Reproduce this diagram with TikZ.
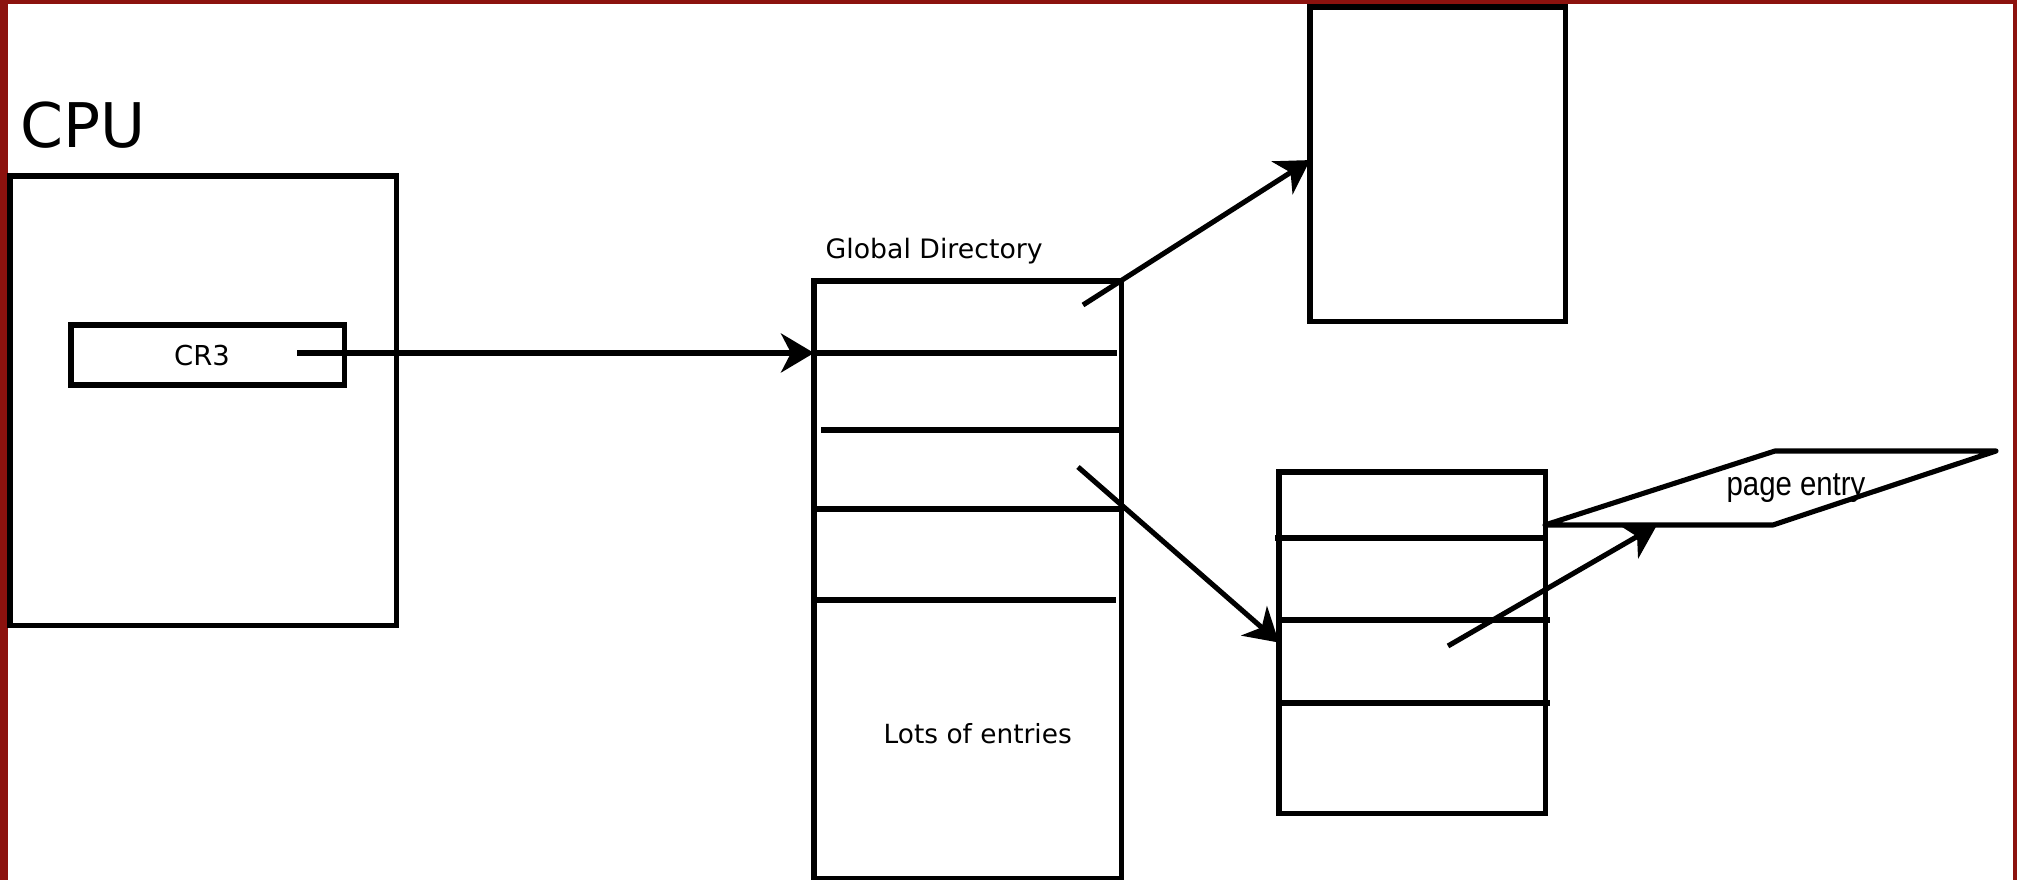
\documentclass[tikz,border=0pt]{standalone}
\usepackage{fontspec}
\setmainfont{DejaVu Sans}
\newfontfamily\narrowsans[FakeStretch=0.87]{Liberation Sans}
\usetikzlibrary{arrows.meta}
\definecolor{framered}{RGB}{140,18,14}
\begin{document}
\begin{tikzpicture}[x=0.01cm, y=-0.01cm,
  box/.style={draw, line width=1.45pt, inner sep=0pt, outer sep=0pt, anchor=north west},
  row/.style={line width=1.45pt},
  link/.style={line width=1.45pt, -{Stealth[length=3.3mm,width=3.9mm,inset=1mm]}},
  lbl/.style={inner sep=0pt, font=\fontsize{7.5}{9}\selectfont}]
\useasboundingbox (0,0) rectangle (2017,880);
\fill[white] (0,0) rectangle (2017,880);
% window frame
\fill[framered] (0,0) rectangle (8,880);
\fill[framered] (0,0) rectangle (2017,4);
\fill[framered] (2013,0) rectangle (2017,880);

% CPU with its CR3 register
\node[inner sep=0pt, anchor=base west, font=\fontsize{17.5}{21}\selectfont] (cpulabel) at (20,148) {CPU};
\node[box, minimum width=3.86cm, minimum height=4.49cm] (cpu) at (10,176) {};
\node[box, minimum width=2.73cm, minimum height=0.60cm] (cr3) at (71,325) {};
\node[lbl, anchor=base, font=\fontsize{7.8}{9}\selectfont] (cr3label) at (202,366) {CR3};

% page global directory
\node[lbl, anchor=base west, font=\fontsize{7.6}{9}\selectfont] (gdlabel) at (825,259) {Global Directory};
\node[box, minimum width=3.07cm, minimum height=5.97cm] (gd) at (814,281) {};
\draw[row] (814,353) -- (1117,353);
\draw[row] (821,430) -- (1121,430);
\draw[row] (814,509) -- (1121,509);
\draw[row] (814,600) -- (1116,600);
\node[lbl, anchor=base west] (gdmore) at (883,744) {Lots of entries};

% next-level tables
\node[box, minimum width=2.55cm, minimum height=3.14cm] (pt1) at (1310,7) {};
\node[box, minimum width=2.66cm, minimum height=3.41cm] (pt2) at (1279,472) {};
\draw[row] (1275,538) -- (1545,538);
\draw[row] (1279,620) -- (1550,620);
\draw[row] (1279,703) -- (1550,703);

% page entry
\draw[row, line join=round] (1545,525) -- (1775,451) -- (1996,451) -- (1773,525) -- cycle;
\node[inner sep=0pt, font=\narrowsans\fontsize{9.6}{11}\selectfont] (pe) at (1796,488) {page entry};
\coordinate (pebottom) at (1657,525);

% pointers
\coordinate (cr3out) at (297,353);
\coordinate (gdent1) at (1083,305);
\coordinate (gdent2) at (1078,467);
\coordinate (ptent) at (1448,646);
\coordinate (pt1in) at ([yshift=0.04cm]pt1.west);
\draw[link] (cr3out) -- (gd.west |- cr3out);
\draw[link] (gdent1) -- (pt1in);
\draw[link] (gdent2) -- (pt2.west);
\draw[link] (ptent) -- (pebottom);
\end{tikzpicture}
\end{document}
